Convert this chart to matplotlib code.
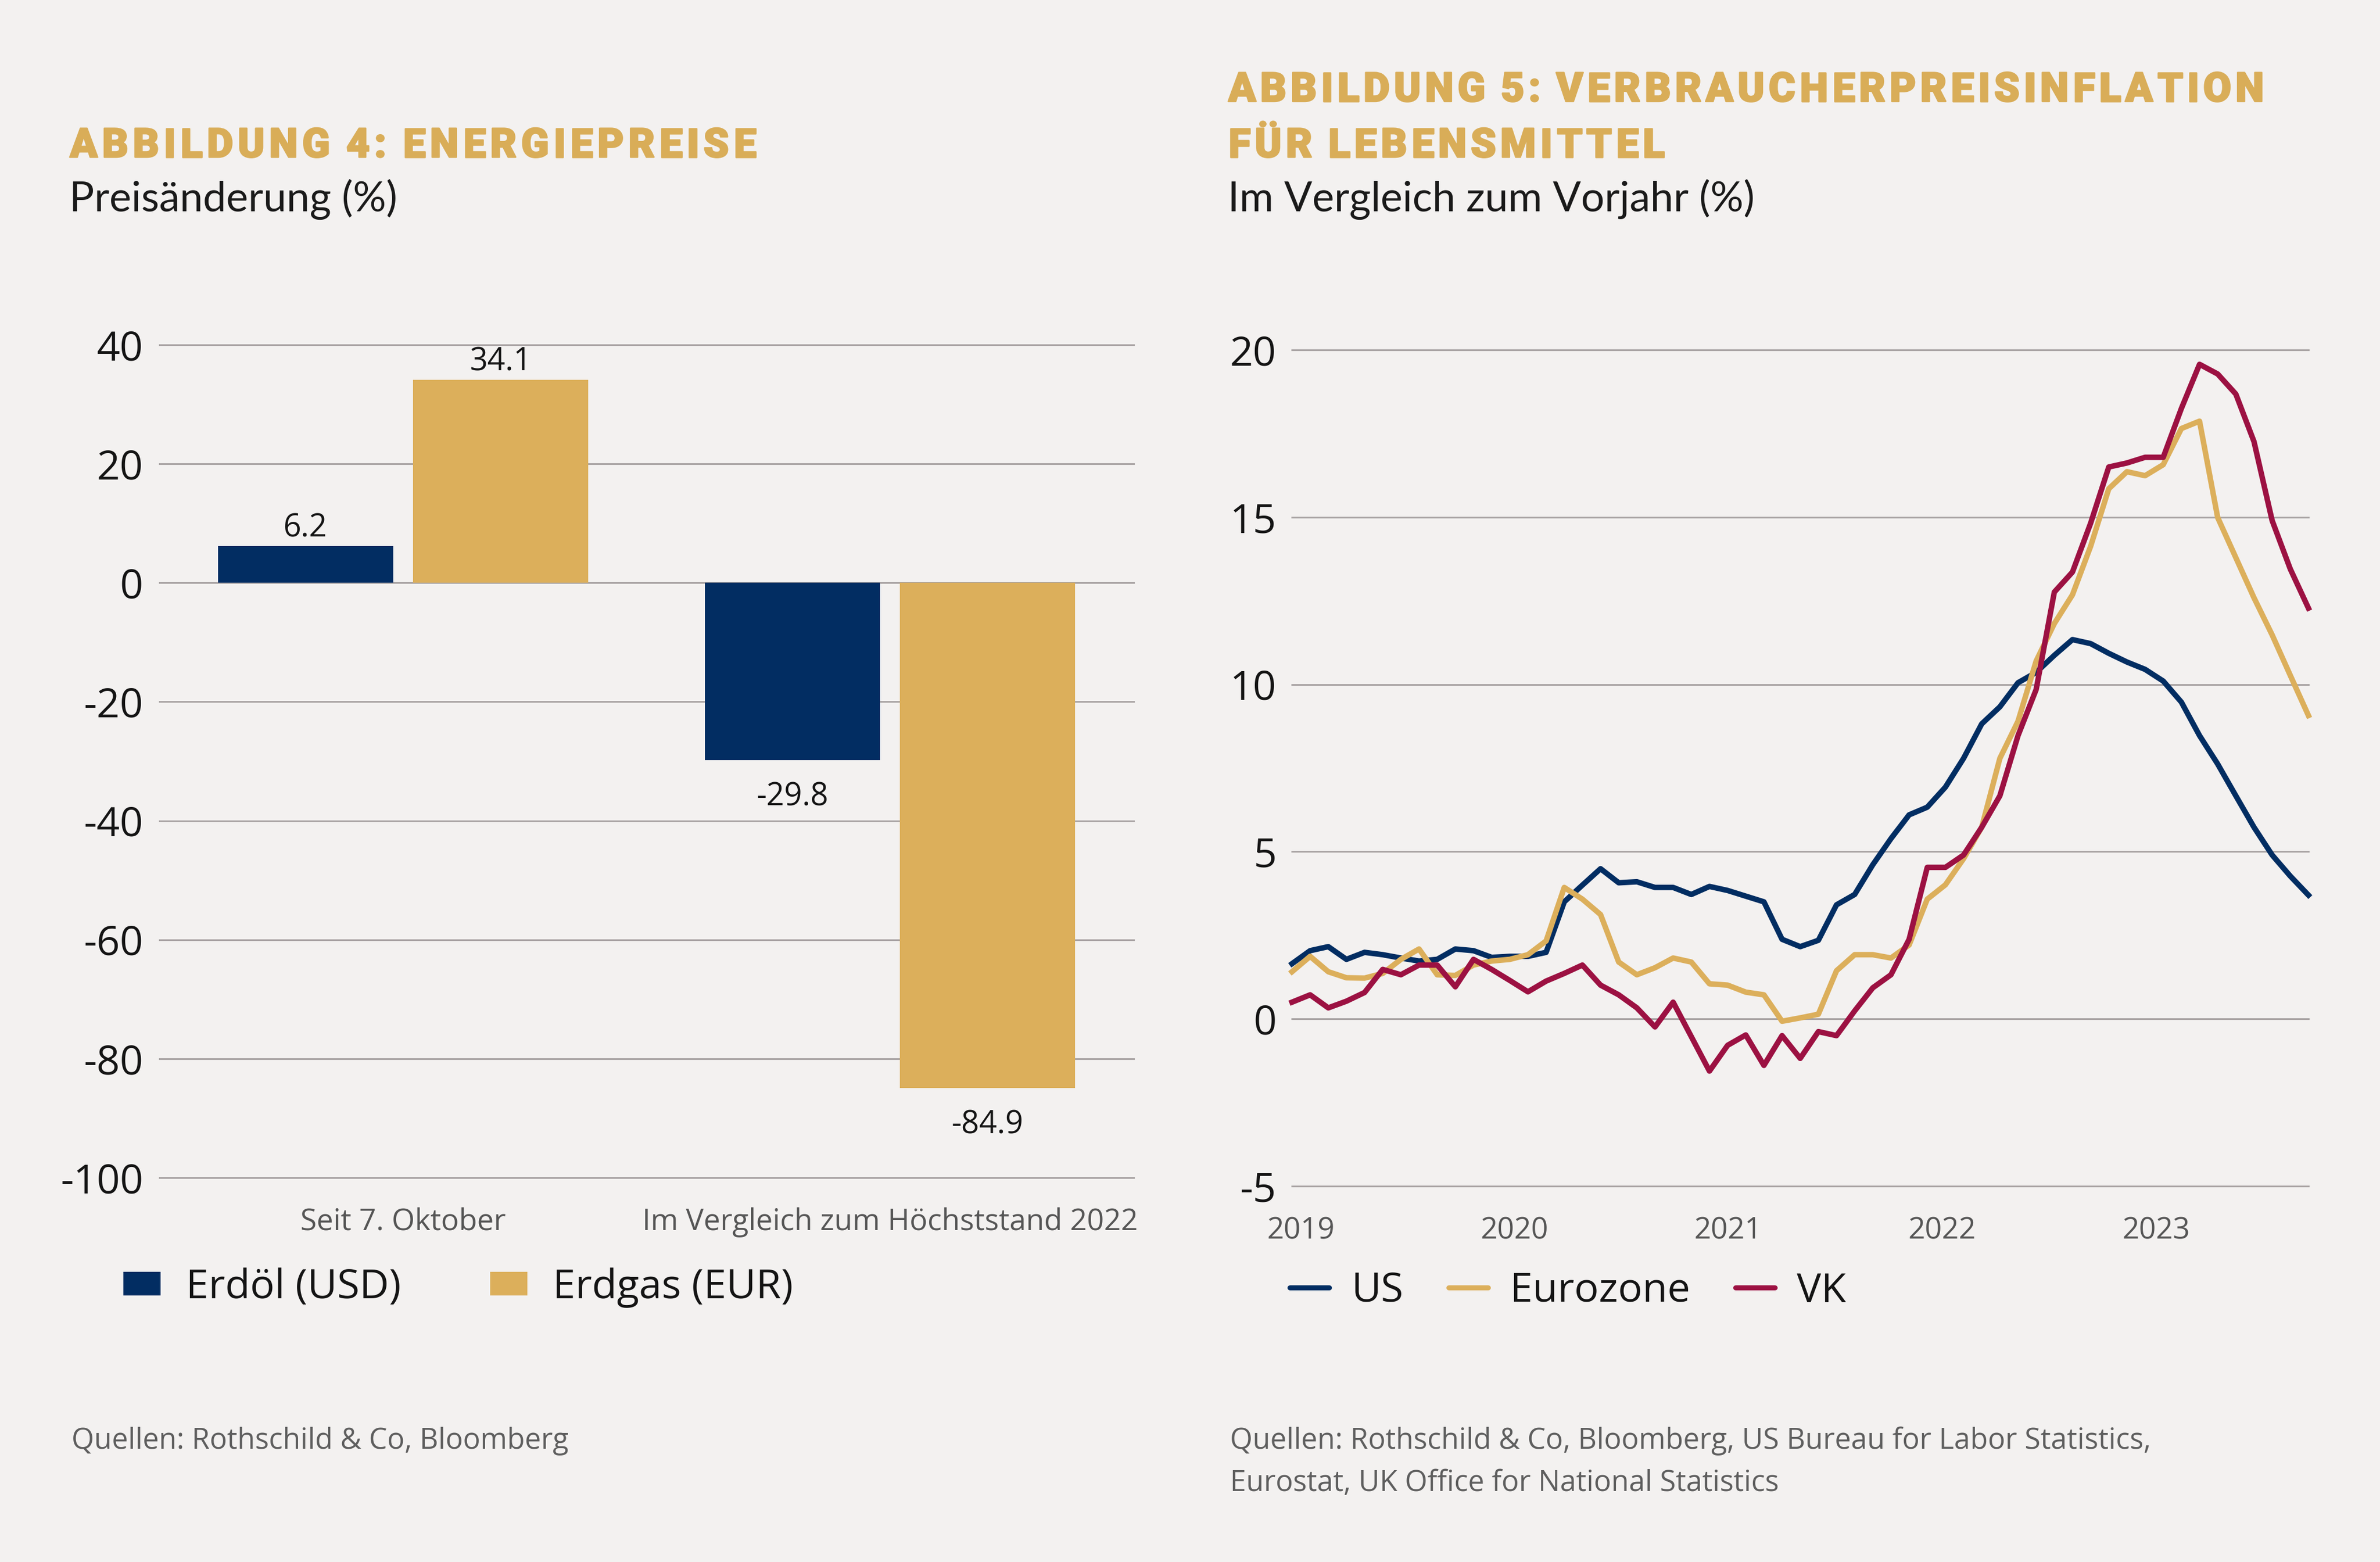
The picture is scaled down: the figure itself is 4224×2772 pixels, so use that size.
import matplotlib
matplotlib.use("Agg")
import matplotlib.pyplot as plt
import matplotlib.patheffects as pe
import numpy as np
from matplotlib.patches import Patch
from matplotlib.lines import Line2D

# ---------------- data ----------------
bar_categories = ["Seit 7. Oktober", "Im Vergleich zum Höchststand 2022"]
bar_series = ["Erdöl (USD)", "Erdgas (EUR)"]
oil_values = [6.2, -29.8]
gas_values = [34.1, -84.9]
bar_yticks = [40, 20, 0, -20, -40, -60, -80, -100]

line_series = ["US", "Eurozone", "VK"]
year_labels = ["2019", "2020", "2021", "2022", "2023"]
# monthly, Jan 2019 .. Sep 2023
us = [1.65, 2.04, 2.16, 1.78, 1.99, 1.92, 1.82, 1.73, 1.78, 2.09, 2.04, 1.84,
      1.87, 1.87, 1.99, 3.50, 4.00, 4.49, 4.07, 4.10, 3.93, 3.93, 3.72, 3.96,
      3.84, 3.67, 3.50, 2.38, 2.16, 2.35, 3.41, 3.72, 4.61, 5.39, 6.10, 6.33,
      6.93, 7.79, 8.82, 9.33, 10.05, 10.36, 10.87, 11.34, 11.22, 10.93, 10.67, 10.45,
      10.10, 9.47, 8.47, 7.62, 6.67, 5.73, 4.90, 4.27, 3.70]
eurozone = [1.41, 1.87, 1.41, 1.23, 1.22, 1.36, 1.78, 2.09, 1.32, 1.30, 1.61, 1.73,
            1.78, 1.92, 2.33, 3.93, 3.58, 3.12, 1.70, 1.32, 1.53, 1.82, 1.70, 1.05,
            1.01, 0.80, 0.72, -0.07, 0.03, 0.14, 1.44, 1.92, 1.92, 1.82, 2.21, 3.58,
            4.01, 4.79, 5.73, 7.79, 8.90, 10.70, 11.82, 12.68, 14.13, 15.85, 16.36, 16.24,
            16.57, 17.65, 17.87, 14.99, 13.79, 12.59, 11.48, 10.27, 9.07]
uk = [0.50, 0.72, 0.33, 0.53, 0.79, 1.48, 1.32, 1.61, 1.61, 0.96, 1.78, 1.48,
      1.15, 0.81, 1.13, 1.36, 1.61, 1.01, 0.72, 0.33, -0.24, 0.50, -0.53, -1.56,
      -0.79, -0.48, -1.39, -0.50, -1.18, -0.38, -0.50, 0.24, 0.93, 1.32, 2.38, 4.53,
      4.53, 4.90, 5.73, 6.67, 8.47, 9.85, 12.76, 13.36, 14.82, 16.50, 16.62, 16.79,
      16.79, 18.25, 19.57, 19.28, 18.68, 17.26, 14.90, 13.45, 12.28]
line_yticks = [-5, 0, 5, 10, 15, 20]

titles_left = ["ABBILDUNG 4: ENERGIEPREISE"]
subtitle_left = "Preisänderung (%)"
titles_right = ["ABBILDUNG 5: VERBRAUCHERPREISINFLATION", "FÜR LEBENSMITTEL"]
subtitle_right = "Im Vergleich zum Vorjahr (%)"
source_left = ["Quellen: Rothschild & Co, Bloomberg"]
source_right = ["Quellen: Rothschild & Co, Bloomberg, US Bureau for Labor Statistics,",
                "Eurostat, UK Office for National Statistics"]

# ---------------- style / layout ----------------
BG = "#F3F1F0"
NAVY = "#022D62"
GOLD = "#DCAF5B"
TITLE_GOLD = "#D9AD58"
RED = "#9C1142"
GRID = "#A9A4A4"
TXT = "#141414"
GRAYTXT = "#555555"
SRC = "#5E5E5E"
year_tick_pos = [0.5, 12.25, 24.0, 35.8, 47.6]   # label placement along the month axis

plt.rcParams["font.family"] = ["Open Sans", "DejaVu Sans"]
plt.rcParams["axes.unicode_minus"] = False

W, H, DPI = 4224, 2772, 200
fig = plt.figure(figsize=(W / DPI, H / DPI), dpi=DPI, facecolor=BG)


def fx(px):
    return px / W


def fy(py):
    return 1 - py / H


renderer = fig.canvas.get_renderer()
TFONT = dict(fontsize=26, color=TITLE_GOLD, fontweight="black", family=["Roboto", "DejaVu Sans"])
TEFF = [pe.withStroke(linewidth=0.9, foreground=TITLE_GOLD)]


def char_widths(s):
    ws = []
    for ch in s:
        if ch == " ":
            ws.append(None)
            continue
        t = fig.text(0, 0, ch, **TFONT)
        ws.append(t.get_window_extent(renderer).width)
        t.remove()
    return ws


em_px = TFONT["fontsize"] * DPI / 72
space_w = 0.18 * em_px


def fit_gap(s, target):
    ws = char_widths(s)
    total = sum(w if w is not None else space_w for w in ws)
    return (target - total) / (len(ws) - 1)


def tracked(x_px, base_px, s, gap):
    ws = char_widths(s)
    x = x_px
    for ch, w in zip(s, ws):
        if w is None:
            x += space_w + gap
            continue
        fig.text(fx(x), fy(base_px), ch, va="baseline", ha="left", path_effects=TEFF, **TFONT)
        x += w + gap


gap_l = fit_gap(titles_left[0], 1218)
gap_r = fit_gap(titles_right[0], 1838)
tracked(124, 279, titles_left[0], gap_l)
tracked(2180, 180, titles_right[0], gap_r)
tracked(2180, 279, titles_right[1], gap_r)

SUBFONT = dict(fontsize=26.5, color="#1A1A1A", fontweight="normal", family=["Lato", "DejaVu Sans"])
fig.text(fx(123), fy(375), subtitle_left, va="baseline", ha="left", **SUBFONT)
fig.text(fx(2179), fy(375), subtitle_right, va="baseline", ha="left", **SUBFONT)

for i, s in enumerate(source_left):
    fig.text(fx(127), fy(2571 + 75 * i), s, va="baseline", ha="left", fontsize=18.5, color=SRC)
for i, s in enumerate(source_right):
    fig.text(fx(2183), fy(2571 + 75 * i), s, va="baseline", ha="left", fontsize=18.5, color=SRC)

# ---------------- left: bar chart ----------------
ax1 = fig.add_axes([fx(283), fy(2090), fx(2012) - fx(283), fy(612) - fy(2090)])
ax1.set_facecolor("none")
for sp in ax1.spines.values():
    sp.set_visible(False)
ax1.set_xlim(-0.5, 1.5)
ax1.set_ylim(min(bar_yticks), max(bar_yticks))
for v in bar_yticks:
    ax1.axhline(v, color=GRID, lw=1.1, zorder=0, clip_on=False)
xpos = np.arange(len(bar_categories))
bw = 0.36
ax1.bar(xpos - 0.2, oil_values, bw, color=NAVY, zorder=2)
ax1.bar(xpos + 0.2, gas_values, bw, color=GOLD, zorder=2)
for off, vals in ((-0.2, oil_values), (0.2, gas_values)):
    for xi, v in zip(xpos, vals):
        if v >= 0:
            ax1.annotate(f"{v:.1f}", (xi + off, v), xytext=(0, 6), textcoords="offset points",
                         ha="center", va="baseline", fontsize=20, color=TXT)
        else:
            ax1.annotate(f"{v:.1f}", (xi + off, v), xytext=(0, -13.5), textcoords="offset points",
                         ha="center", va="top", fontsize=20, color=TXT)
ax1.set_yticks(bar_yticks)
ax1.set_yticklabels([str(v) for v in bar_yticks])
ax1.set_xticks(xpos)
ax1.set_xticklabels(bar_categories)
ax1.tick_params(axis="y", length=0, pad=10.4, labelsize=26, labelcolor=TXT)
ax1.tick_params(axis="x", length=0, pad=19, labelsize=19, labelcolor=GRAYTXT)

fig.legend(handles=[Patch(facecolor=NAVY, edgecolor="none"), Patch(facecolor=GOLD, edgecolor="none")],
           labels=bar_series, loc="center left", bbox_to_anchor=(fx(219), fy(2285)),
           ncol=2, frameon=False, fontsize=26, labelcolor=TXT,
           handlelength=0.914, handleheight=0.512, handletextpad=0.62,
           columnspacing=2.2, borderpad=0, borderaxespad=0)

# ---------------- right: line chart ----------------
ax2 = fig.add_axes([fx(2293), fy(2105), fx(4097) - fx(2293), fy(621) - fy(2105)])
ax2.set_facecolor("none")
for sp in ax2.spines.values():
    sp.set_visible(False)
months = np.arange(len(us))
ax2.set_xlim(months[0], months[-1])
ax2.set_ylim(min(line_yticks), max(line_yticks))
for v in line_yticks:
    ax2.axhline(v, color=GRID, lw=1.1, zorder=0, clip_on=False)
colors = [NAVY, GOLD, RED]
for vals, c in zip((us, eurozone, uk), colors):
    ax2.plot(months, vals, color=c, lw=3.5, clip_on=False, zorder=3)
ax2.set_yticks(line_yticks)
ax2.set_yticklabels([str(v) for v in line_yticks])
ax2.set_xticks(year_tick_pos)
ax2.set_xticklabels(year_labels)
ax2.tick_params(axis="y", length=0, pad=10, labelsize=26, labelcolor=TXT)
ax2.tick_params(axis="x", length=0, pad=19, labelsize=19, labelcolor=GRAYTXT)

fig.legend(handles=[Line2D([0], [0], color=c, lw=3.2, solid_capstyle="round") for c in colors],
           labels=line_series, loc="center left", bbox_to_anchor=(fx(2289), fy(2292)),
           ncol=3, frameon=False, fontsize=26, labelcolor=TXT,
           handlelength=0.97, handletextpad=0.55, columnspacing=1.1,
           borderpad=0, borderaxespad=0)

fig.savefig("out.png", dpi=DPI, facecolor=BG)
